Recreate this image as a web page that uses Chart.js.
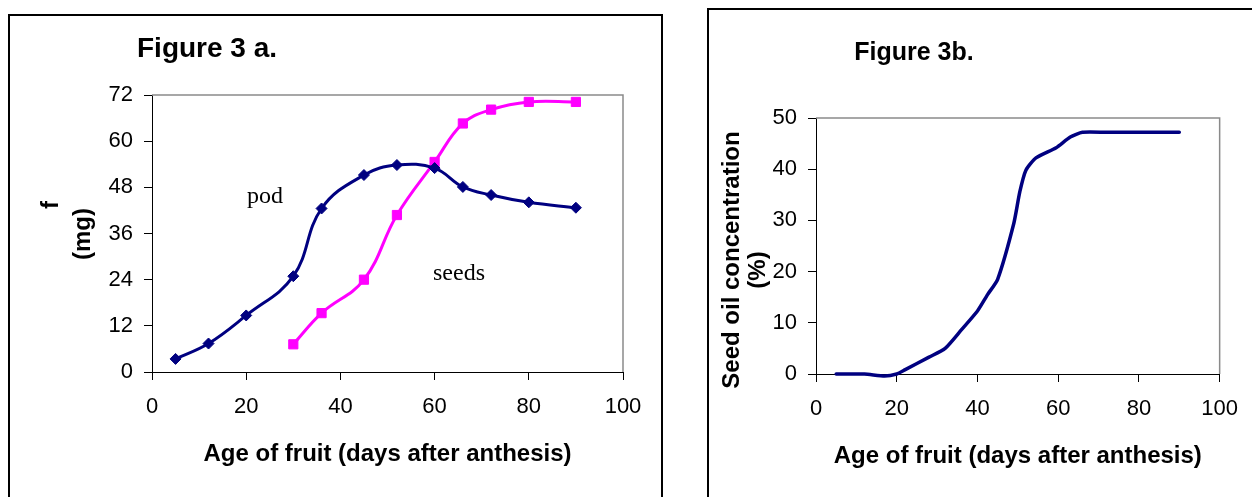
<!DOCTYPE html>
<html>
<head>
<meta charset="utf-8">
<script src="https://cdn.jsdelivr.net/npm/chart.js@4/dist/chart.umd.min.js"></script>
<style>
	html, body { margin: 0; padding: 0; background: #fff; }
	#page { position: relative; width: 1252px; height: 497px; overflow: hidden; }
	.frame { position: absolute; border: 2px solid #000; box-sizing: border-box; }
	canvas { position: absolute; top: 0; }
</style>
</head>
<body>
<div id="page">
	<div class="frame" style="left:8px; top:14px; width:655px; height:520px;"></div>
	<div class="frame" style="left:707px; top:8px; width:580px; height:520px;"></div>
	<canvas id="chart-fig3a" width="690" height="497" style="left:0"></canvas>
	<canvas id="chart-fig3b" width="562" height="497" style="left:690px"></canvas>
</div>
<script>
// ----------------------------------------------
// Data
// ----------------------------------------------
const podDays = [5, 12, 20, 30, 36, 45, 52, 60, 66, 72, 80, 90];
const podWeight = [3.4, 7.4, 14.7, 24.9, 42.5, 51.2, 53.8, 53, 48.1, 46, 44.1, 42.7];
const seedDays = [30, 36, 45, 52, 60, 66, 72, 80, 90];
const seedWeight = [7.2, 15.3, 24, 40.8, 54.6, 64.6, 68.2, 70.2, 70.2];

const oilDays = [5, 12, 17, 20, 22, 28, 32, 36, 40, 42.5, 45, 49, 50.5, 52, 54.5, 59.5, 63, 66, 72, 80, 90];
const oilPercent = [0, 0, -0.4, 0, 0.8, 3.3, 5, 8.6, 12.3, 15.5, 18.5, 29.4, 35.6, 39.8, 42.2, 44.2, 46.3, 47.2, 47.2, 47.2, 47.2];

const dayTicks = [0, 20, 40, 60, 80, 100];
const weightTicks = [0, 12, 24, 36, 48, 60, 72];
const oilTicks = [0, 10, 20, 30, 40, 50];

const toPoints = (xs, ys) => xs.map((x, i) => ({ x: x, y: ys[i] }));

Chart.defaults.font.family = "'Liberation Sans', Arial, sans-serif";
Chart.defaults.color = "#000";

const NAVY = "#000080";
const MAGENTA = "#ff00ff";
const SANS_BOLD = "bold 24px 'Liberation Sans', Arial, sans-serif";
const SERIF = "24px 'Liberation Serif', 'Times New Roman', serif";

// gray top/right edge of the plot area
const plotFrame = {
	id: "plotFrame",
	beforeDatasetsDraw(chart) {
		const { ctx, chartArea: a } = chart;
		ctx.save();
		ctx.strokeStyle = "#8a8a8a";
		ctx.lineWidth = 1.5;
		ctx.beginPath();
		ctx.moveTo(a.left, a.top);
		ctx.lineTo(a.right, a.top);
		ctx.lineTo(a.right, a.bottom);
		ctx.stroke();
		ctx.restore();
	},
};

// figure titles, y titles and in-plot labels
const panelText = {
	id: "panelText",
	afterDraw(chart, args, opts) {
		const ctx = chart.ctx;
		(opts.items || []).forEach((t) => {
			ctx.save();
			ctx.translate(t.x, t.y);
			if (t.rotate) ctx.rotate(-Math.PI / 2);
			ctx.font = t.font;
			ctx.fillStyle = "#000";
			ctx.textAlign = t.align || "center";
			ctx.textBaseline = t.baseline || "middle";
			ctx.fillText(t.text, 0, 0);
			ctx.restore();
		});
	},
};

const axisX = (height, titleBottom) => ({
	type: "linear",
	min: 0,
	max: 100,
	afterBuildTicks: (scale) => { scale.ticks = dayTicks.map((v) => ({ value: v })); },
	afterFit: (scale) => { scale.height = height; },
	border: { display: true, color: "#000", width: 1 },
	grid: { drawOnChartArea: false, drawTicks: true, tickLength: 8, color: "#000" },
	ticks: { font: { size: 22 }, padding: 14, maxRotation: 0 },
	title: {
		display: true,
		text: "Age of fruit (days after anthesis)",
		font: { size: 24, weight: "bold" },
		padding: { top: 0, bottom: titleBottom },
	},
});

const axisY = (width, max, tickList) => ({
	type: "linear",
	min: 0,
	max: max,
	afterBuildTicks: (scale) => { scale.ticks = tickList.map((v) => ({ value: v })); },
	afterFit: (scale) => { scale.width = width; },
	border: { display: true, color: "#000", width: 1 },
	grid: { drawOnChartArea: false, drawTicks: true, tickLength: 8, color: "#000" },
	ticks: { font: { size: 22 }, padding: 11 },
});

// ----------------------------------------------
// Figure 3 a
// ----------------------------------------------
new Chart(document.getElementById("chart-fig3a"), {
	type: "line",
	data: {
		datasets: [
			{
				label: "pod",
				data: toPoints(podDays, podWeight),
				borderColor: NAVY,
				backgroundColor: NAVY,
				borderWidth: 3,
				tension: 0.4,
				pointStyle: "rectRot",
				pointRadius: 5.5,
				pointBorderWidth: 1,
			},
			{
				label: "seeds",
				data: toPoints(seedDays, seedWeight),
				borderColor: MAGENTA,
				backgroundColor: MAGENTA,
				borderWidth: 3,
				tension: 0.4,
				pointStyle: "rect",
				pointRadius: 6.5,
				pointBorderWidth: 1,
			},
		],
	},
	options: {
		responsive: false,
		animation: false,
		layout: { padding: { left: 0, top: 95, right: 67, bottom: 0 } },
		plugins: {
			legend: { display: false },
			tooltip: { enabled: false },
			panelText: {
				items: [
					{ text: "Figure 3 a.", x: 137, y: 57, font: "bold 28px 'Liberation Sans', Arial, sans-serif", align: "left", baseline: "alphabetic" },
					{ text: "f", x: 51, y: 205, font: SANS_BOLD, rotate: true },
					{ text: "(mg)", x: 83, y: 234, font: SANS_BOLD, rotate: true },
					{ text: "pod", x: 247, y: 203, font: SERIF, align: "left", baseline: "alphabetic" },
					{ text: "seeds", x: 433, y: 280, font: SERIF, align: "left", baseline: "alphabetic" },
				],
			},
		},
		scales: {
			x: axisX(125, 28),
			y: axisY(152, 72, weightTicks),
		},
	},
	plugins: [plotFrame, panelText],
});

// ----------------------------------------------
// Figure 3 b
// ----------------------------------------------
new Chart(document.getElementById("chart-fig3b"), {
	type: "line",
	data: {
		datasets: [
			{
				label: "Seed oil concentration",
				data: toPoints(oilDays, oilPercent),
				borderColor: NAVY,
				borderWidth: 3.5,
				borderCapStyle: "round",
				tension: 0.2,
				pointRadius: 0,
				clip: false,
			},
		],
	},
	options: {
		responsive: false,
		animation: false,
		layout: { padding: { left: 0, top: 118, right: 28, bottom: 0 } },
		plugins: {
			legend: { display: false },
			tooltip: { enabled: false },
			panelText: {
				items: [
					{ text: "Figure 3b.", x: 224, y: 60, font: "bold 25px 'Liberation Sans', Arial, sans-serif", baseline: "alphabetic" },
					{ text: "Seed oil concentration", x: 42, y: 260, font: SANS_BOLD, rotate: true },
					{ text: "(%)", x: 68, y: 270, font: SANS_BOLD, rotate: true },
				],
			},
		},
		scales: {
			x: axisX(123, 26),
			y: axisY(126, 50, oilTicks),
		},
	},
	plugins: [plotFrame, panelText],
});
</script>
</body>
</html>
